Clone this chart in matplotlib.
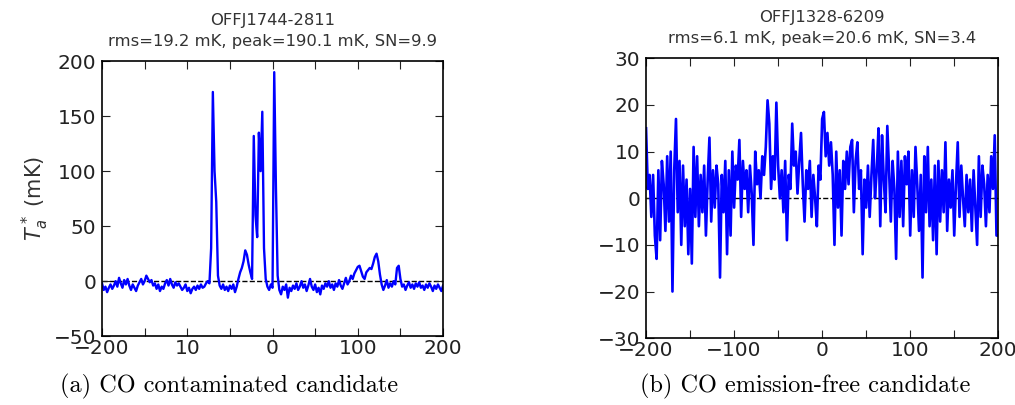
import numpy as np
import matplotlib.pyplot as plt

# velocity axis (km/s), 2 km/s channels
vel = np.arange(-200, 201, 2)

# OFFJ1744-2811 antenna temperature (mK)
ta_left = [
    -2, -8, -5, -10, -6, -3, -7, -4, 0, -5,
    3, -2, -6, 1, -3, 2, -4, -8, -3, -6,
    -9, -4, -1, 2, -3, 0, 5, 2, -1, 1,
    -4, -2, -7, -3, -9, -5, -7, -2, 1, -4,
    2, -3, -6, -1, -4, -2, -5, -8, -6, -3,
    -9, -6, -11, -7, -5, -8, -4, -7, -3, -6,
    -5, -2, 0, -2, 30, 172, 100, 72, 5, -4,
    -7, -3, -8, -5, -9, -4, -7, -3, -10, -5,
    2, 8, 12, 18, 28, 24, 15, 8, 2, 132,
    60, 40, 135, 100, 154, 30, 2, -5, -8, -3,
    -6, 190, 85, 5, -8, -12, -5, -8, -3, -15,
    -6, -9, -4, -7, -2, -8, -5, 0, -6, -3,
    -9, -4, 2, -5, -8, -3, -10, -6, -12, -4,
    -7, -2, -5, 0, -6, -3, -8, -2, -5, 1,
    -4, -7, -2, 3, -3, 0, 5, 2, 7, 10,
    13, 14, 9, 4, 2, 8, 10, 12, 11, 16,
    22, 25, 18, 6, -3, -8, -4, 1, -6, -2,
    -5, 0, -3, 12, 14, 2, -5, -3, -8, -4,
    -1, -6, -3, -7, -2, -5, -1, -6, -4, -8,
    -3, -6, -2, -5, -9, -4, -7, -3, -6, -9,
    -4,
]

# OFFJ1328-6209 antenna temperature (mK)
ta_right = [
    15, 2, 5, -4, 5, -8, -13, 6, -9, 8,
    3, -7, 9, -5, 10, -20, 6, 17, -3, 8,
    -10, 7, -6, 4, -12, 2, -14, 11, -4, 9,
    -6, 5, -3, 7, -8, 4, 13, -5, 6, -2,
    7, 3, -17, 5, -3, 8, -12, 6, -8, 10,
    -2, 7, 4, 12.5, -4, 8, 2, 6, -3, 7,
    1, -10, 10, 3, 6, 0, 9, 5, 11, 21,
    16, 2, 9, 4, 20.5, 7, 0, 6, -3, 8,
    -9, 5, 2, 16, 7, 10, 1, 8, 14, 3,
    -5, 6, 2, 8, -4, 5, 0, -6, 7, 4,
    17, 18.5, 9, 14, 7, 12, 5, -10, 10, -2,
    6, -8, 8, 2, 10, 3, 11, 12.5, -3, 8,
    12, 2, 6, -12, 4, -2, 7, -4, 5, 12.5,
    0, 6, 15, -6, 13.5, 4, -3, 15.5, 6, -5,
    8, 2, -13, 10, -4, 8, -6, 9, 3, 10,
    -8, 6, -4, 11, 3, -7, 5, -17, 9, -3,
    11, -6, 4, -9, 7, -12, 8, -5, 6, -3,
    12, -7, 4, -2, 6, -8, 3, 12, -4, 7,
    0, -6, 5, -3, 4, -7, 6, -2, -10, 9,
    -4, 7, 3, -6, 5, -3, 9, 2, 13.5, -8,
    -8,
]

titles = ['OFFJ1744-2811\nrms=19.2 mK, peak=190.1 mK, SN=9.9',
          'OFFJ1328-6209\nrms=6.1 mK, peak=20.6 mK, SN=3.4']
captions = ['(a) CO contaminated candidate', '(b) CO emission-free candidate']
xtick_pos = [-200, -150, -100, -50, 0, 50, 100, 150, 200]
xtick_left = ['\u2212200', '', '10', '', '0', '', '100', '', '200']
xtick_right = ['\u2212200', '', '\u2212100', '', '0', '', '100', '', '200']
yticks_left = [-50, 0, 50, 100, 150, 200]
yticks_right = [-30, -20, -10, 0, 10, 20, 30]

fig = plt.figure(figsize=(10.15, 4.05), dpi=100)
ax1 = fig.add_axes([0.1005, 0.170, 0.336, 0.679])
ax2 = fig.add_axes([0.6365, 0.165, 0.347, 0.691])

panels = [
    (ax1, ta_left, titles[0], xtick_left, yticks_left, (-50, 200), 1.7),
    (ax2, ta_right, titles[1], xtick_right, yticks_right, (-30, 30), 1.9),
]
for ax, ta, title, xlabels, yticks, ylim, lw in panels:
    ax.axhline(0, color='k', ls='--', lw=1, zorder=1)
    ax.plot(vel, ta, color='b', lw=lw, zorder=2)
    ax.set_xlim(-200, 200)
    ax.set_ylim(*ylim)
    ax.set_xticks(xtick_pos)
    ax.set_xticklabels(xlabels)
    ax.set_yticks(yticks)
    ax.tick_params(direction='in', top=True, right=True, length=6,
                   labelsize=14.5, colors='#222222', pad=4)
    ax.tick_params(axis='x', pad=2)
    for sp in ax.spines.values():
        sp.set_linewidth(1.2)
    ax.set_title(title, fontsize=11.8, color='#333333', pad=11, linespacing=1.5)

ax1.set_ylabel('$T_a^*$ (mK)', fontsize=15, color='#333333', labelpad=2)

fig.text(0.226, 0.047, captions[0], family='cmr10', fontsize=17.5,
         ha='center', va='center')
fig.text(0.793, 0.047, captions[1], family='cmr10', fontsize=17.5,
         ha='center', va='center')

fig.savefig('out.png', dpi=100, facecolor='white')
